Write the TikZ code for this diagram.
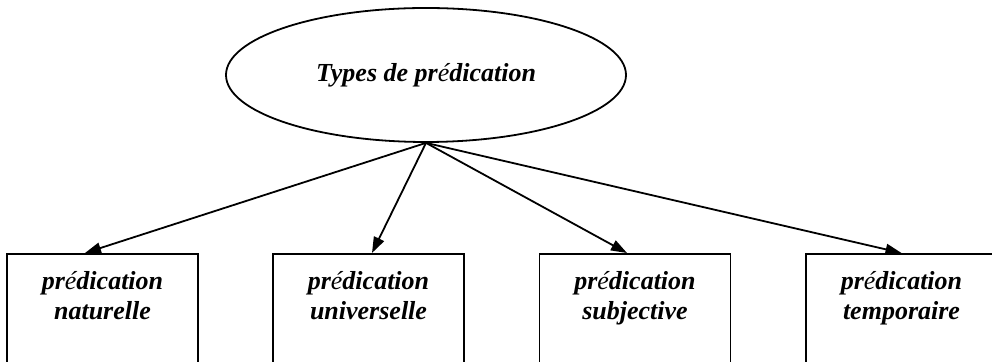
\documentclass[tikz,border=0pt]{standalone}
\usepackage{fontspec}
\setmainfont{Liberation Serif}
\usetikzlibrary{shapes.geometric,arrows.meta,calc}

\begin{document}
\begin{tikzpicture}[x=0.5pt, y=-0.5pt, line width=0.9pt,
    font=\fontsize{13}{15}\selectfont\bfseries\itshape,
    typebox/.style={draw, anchor=north, inner sep=0, minimum width=95.5pt, minimum height=62pt},
    boxtext/.style={anchor=north, align=center, inner sep=0, yshift=-9pt},
    link/.style={-{Triangle[length=8pt,width=5.5pt]}}]
    \useasboundingbox (0,0) rectangle (992,362);
    \clip (0,0) rectangle (992,362);

    \node[ellipse, draw, inner sep=0, minimum width=200pt, minimum height=67pt] at (426,75) (root) {Types de pr\textmd{é}dication};

    \node[typebox] at (102.5,253) (nat) {};
    \node[typebox] at (368.5,253) (univ) {};
    \node[typebox] at (635,253) (subj) {};
    \node[typebox] at (901.5,253) (temp) {};

    \node[boxtext] at (nat.north) (natT) {pr\textmd{é}dication\\naturelle};
    \node[boxtext] at (univ.north) (univT) {pr\textmd{é}dication\\universelle};
    \node[boxtext] at (subj.north) (subjT) {pr\textmd{é}dication\\subjective};
    \node[boxtext] at (temp.north) (tempT) {pr\textmd{é}dication\\temporaire};

    \draw[link] (root.south) -- ($(nat.north)+(-17.5,0)$);
    \draw[link] (root.south) -- ($(univ.north)+(3.5,0)$);
    \draw[link] (root.south) -- ($(subj.north)+(-8,0)$);
    \draw[link] (root.south) -- (temp.north);
\end{tikzpicture}
\end{document}
